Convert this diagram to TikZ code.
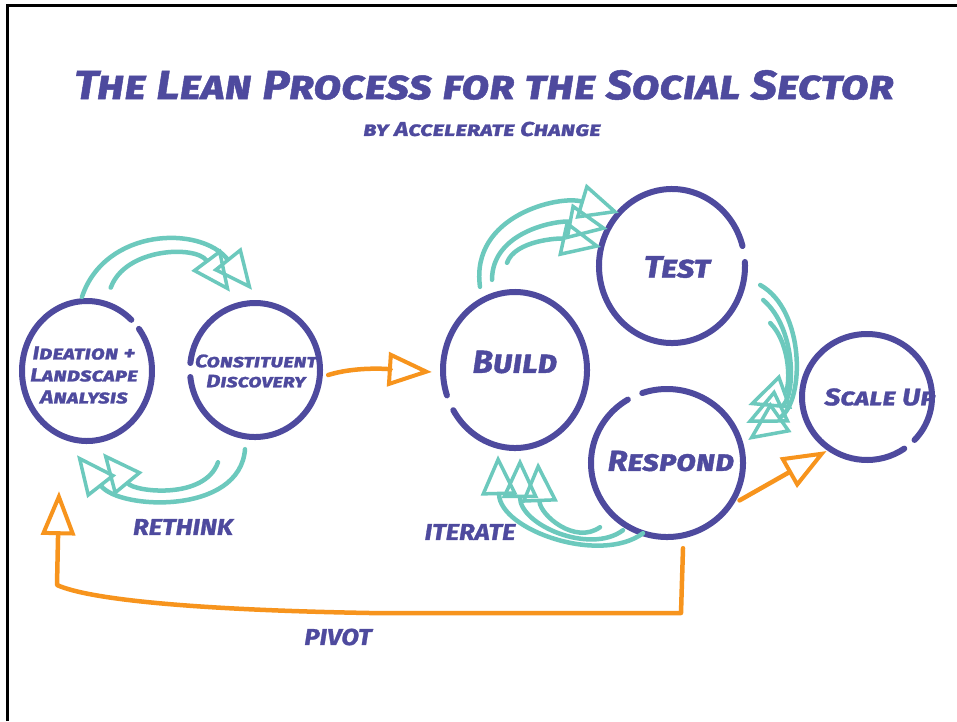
\documentclass[tikz,border=0pt]{standalone}
\usepackage{fontspec}
\setmainfont{Fira Sans}
\usetikzlibrary{arrows.meta,calc,shapes.geometric}
\definecolor{purp}{HTML}{4E4A9E}
\definecolor{tealc}{HTML}{6CC9BD}
\definecolor{orng}{HTML}{F7941D}
\newcommand\handf[3]{\fontsize{#1}{#2}\selectfont\bfseries\itshape\scshape\addfontfeatures{FakeStretch=#3,FakeBold=1.2}}
\begin{document}
\begin{tikzpicture}[x=1pt,y=-1pt,
  ring/.style={draw=purp,line width=6pt,line cap=round},
  spot/.style={ellipse,draw=none,inner sep=0pt},
  txt/.style={text=purp,align=center,inner sep=0pt},
  tarr/.style={draw=tealc,line width=4.5pt,line cap=round,-{Triangle[open,length=40pt,width=36pt,line width=3.5pt]}},
  oarr/.style={draw=orng,line width=4.5pt,line cap=round,line join=round,-{Triangle[open,length=44pt,width=34pt,line width=4pt]}},
]
\useasboundingbox (0,0) rectangle (957,721);
\fill[white] (0,0) rectangle (957,721);
\draw[line width=3pt] (7,721) -- (7,5) -- (957,5);

% titles
\node[txt,font=\handf{41}{44}{1.12}] (title) at (484,85) {The Lean Process for the Social Sector};
\node[txt,font=\handf{20}{22}{1.22}] (subtitle) at (482,129) {by Accelerate Change};

% circle spots
\node[spot,minimum width=130pt,minimum height=140pt] (ide) at (87,371) {};
\node[spot,minimum width=130pt,minimum height=134pt] (con) at (255,370) {};
\node[spot,minimum width=144pt,minimum height=156pt] (bld) at (515,370) {};
\node[spot,minimum width=146pt,minimum height=154pt] (tst) at (672,266) {};
\node[spot,minimum width=152pt,minimum height=148pt] (rsp) at (667,463) {};
\node[spot,minimum width=130pt,minimum height=126pt] (scl) at (867,397) {};

% rings
\draw[ring] ($(ide)+(47:65pt and 70pt)$) arc[start angle=47,end angle=397,x radius=65pt,y radius=70pt];
\draw[ring] ($(con)+(186:65pt and 67pt)$) arc[start angle=186,end angle=534,x radius=65pt,y radius=67pt];
\draw[ring] ($(bld)+(211:72pt and 78pt)$) arc[start angle=211,end angle=559,x radius=72pt,y radius=78pt];
\draw[ring] ($(tst)+(15:73pt and 77pt)$) arc[start angle=15,end angle=363,x radius=73pt,y radius=77pt];
\draw[ring] ($(rsp)+(121:76pt and 74pt)$) arc[start angle=121,end angle=469,x radius=76pt,y radius=74pt];
\draw[ring] ($(scl)+(-43:65pt and 63pt)$) arc[start angle=-43,end angle=305,x radius=65pt,y radius=63pt];

% circle texts
\node[txt,font=\handf{19}{22}{1.2}] (idet) at (84,375) {Ideation +\\Landscape\\Analysis};
\node[txt,font=\handf{18}{20}{1.22}] (cont) at (256,371) {Constituent\\Discovery};
\node[txt,font=\handf{32}{34}{1.05}] (bldt) at (515,362) {Build};
\node[txt,font=\handf{31}{33}{1.12}] (tstt) at (677,267) {Test};
\node[txt,font=\handf{29}{31}{1.12}] (rspt) at (671,461) {Respond};
\node[txt,font=\handf{24}{26}{1.18}] (sclt) at (880,397) {Scale Up};

% labels
\node[txt,font=\handf{23}{25}{1.12}] (rethink) at (183,527) {RETHINK};
\node[txt,font=\handf{23}{25}{1.12}] (iterate) at (470,532) {ITERATE};
\node[txt,font=\handf{23}{25}{1.12}] (pivot) at (338,637) {PIVOT};

% teal: ideation -> constituent
\draw[tarr] ($(ide.north)+(-5,-4)$) .. controls (105,228) and (200,225) .. ($(con.north)+(-3,-13)$);
\draw[tarr] ($(ide.70)+(0,-18)$) .. controls (125,248) and (195,245) .. ($(con.north)+(-25,-11)$);
% teal: constituent -> ideation (rethink)
\draw[tarr] ($(con.south)+(-10,12)$) .. controls (240,515) and (120,510) .. ($(ide.south)+(-10,14)$);
\draw[tarr] ($(con.south)+(-37,25)$) .. controls (205,500) and (135,492) .. ($(ide.south)+(16,12)$);
% teal: build -> test
\draw[tarr] ($(bld.north)+(-35,-5)$) .. controls (470,215) and (560,195) .. (tst.135);
\draw[tarr] ($(bld.north)+(-23,-12)$) .. controls (492,230) and (560,220) .. (tst.150);
\draw[tarr] ($(bld.north)+(-8,-29)$) .. controls (515,240) and (560,238) .. (tst.165);
% teal: test -> respond
\draw[tarr] ($(tst.east)+(15,19)$) .. controls (805,310) and (805,400) .. ($(rsp.east)+(5,-23)$);
\draw[tarr] ($(tst.east)+(18,34)$) .. controls (798,330) and (795,400) .. ($(rsp.east)+(3,-40)$);
\draw[tarr] ($(tst.east)+(25,57)$) .. controls (792,345) and (790,390) .. ($(rsp.east)+(5,-58)$);
% teal: respond -> build (iterate)
\draw[tarr] ($(rsp.south)+(-24,-4)$) .. controls (600,565) and (500,530) .. ($(bld.south)+(-17,7)$);
\draw[tarr] ($(rsp.south)+(-44,-7)$) .. controls (590,555) and (520,525) .. ($(bld.south)+(5,10)$);
\draw[tarr] ($(rsp.south)+(-67,-10)$) .. controls (575,545) and (540,515) .. ($(bld.south)+(23,14)$);

% orange arrows
\draw[oarr] ($(con.east)+(8,5)$) .. controls (360,365) and (400,370) .. ($(bld.west)+(-11,2)$);
\draw[oarr] ($(rsp.-27)+(5,3)$) -- ($(scl.-127)+(-2,3)$);
\draw[oarr] ($(rsp.south)+(16,11)$) -- (681,613) -- (370,613) .. controls (200,610) and (90,600) .. (57,585) -- ($(ide.south)+(-28,50)$);
\end{tikzpicture}
\end{document}
